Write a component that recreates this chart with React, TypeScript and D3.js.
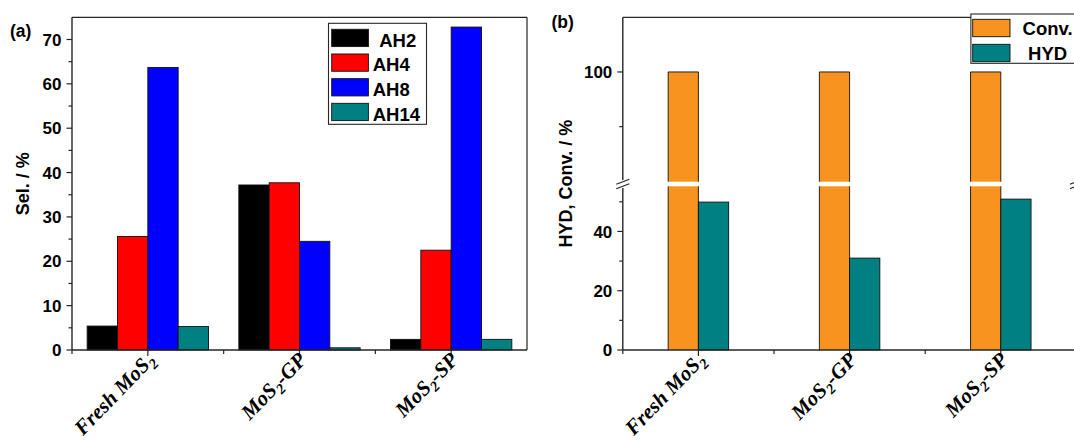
import React from "react";
import * as d3 from "d3";

// ---------- data ----------
const categories = ["Fresh MoS2", "MoS2-GP", "MoS2-SP"];
const seriesA = ["AH2", "AH4", "AH8", "AH14"];
const AH2 = [5.4, 37.2, 2.4];
const AH4 = [25.6, 37.7, 22.5];
const AH8 = [63.7, 24.5, 72.8];
const AH14 = [5.3, 0.5, 2.4];
const colorsA = ["#000000", "#FF0000", "#0000FF", "#008080"];

const seriesB = ["Conv.", "HYD"];
const conv = [100, 100, 100];
const hyd = [49.9, 31.0, 50.9];
const colorsB = ["#F7931E", "#008080"];

const yTicksA = [0, 10, 20, 30, 40, 50, 60, 70];
const yMinorA = [5, 15, 25, 35, 45, 55, 65];
const yTicksBLow = [0, 20, 40];
const yMinorBLow = [10, 30, 50];
const yTicksBHigh = [100];
const yMinorBHigh = [90];

// ---------- layout ----------
const W = 1074, H = 442;
const SANS = "'Liberation Sans', Arial, Helvetica, sans-serif";
const SERIF = "'Liberation Serif', 'Times New Roman', serif";
const AX = "#262626";
const TOP = 17.3, BOT = 350;

const dataA = [AH2, AH4, AH8, AH14];
const dataB = [conv, hyd];

const xA = d3.scaleBand<string>().domain(categories).range([72, 527]);
const bwA = xA.bandwidth();
const xInA = d3.scaleBand<string>().domain(seriesA).range([0.1 * bwA, 0.9 * bwA]);
const yA = d3.scaleLinear().domain([0, 75]).range([BOT, TOP]);

const xB = d3.scaleBand<string>().domain(categories).range([622.8, 1076.4]);
const bwB = xB.bandwidth();
const xInB = d3.scaleBand<string>().domain(seriesB).range([0.3 * bwB, 0.7 * bwB]);
const BRK = 184;
const GAP = 2.3;
const yBLow = d3.scaleLinear().domain([0, 56]).range([BOT, BRK]);
const yBHigh = d3.scaleLinear().domain([79.5, 110]).range([BRK, TOP]);

function CatLabel({ x, label }: { x: number; label: string }) {
  const parts = label.split(/(2)/).filter((p) => p.length > 0);
  return (
    <text
      transform={`translate(${x + 8},${BOT + 11}) rotate(-46)`}
      textAnchor="end"
      fontFamily={SERIF}
      fontWeight="bold"
      fontStyle="italic"
      fontSize={21}
      fill="#000"
    >
      {parts.map((p, i) =>
        p === "2" ? (
          <tspan key={i} dy={5} fontSize={14.5}>2</tspan>
        ) : (
          <tspan key={i} dy={i > 0 && parts[i - 1] === "2" ? -5 : 0}>{p}</tspan>
        )
      )}
    </text>
  );
}

function YTicks({ x, ticks, minor, scale }: { x: number; ticks: number[]; minor: number[]; scale: (v: number) => number }) {
  return (
    <g>
      {ticks.map((t) => (
        <g key={"M" + t}>
          <line x1={x - 5.5} x2={x} y1={scale(t)} y2={scale(t)} stroke={AX} strokeWidth={1.2} />
          <text x={x - 10.5} y={scale(t)} dy="0.36em" textAnchor="end" fontFamily={SANS} fontWeight="bold" fontSize={17}>
            {t}
          </text>
        </g>
      ))}
      {minor.map((t) => (
        <line key={"m" + t} x1={x - 3.5} x2={x} y1={scale(t)} y2={scale(t)} stroke={AX} strokeWidth={1.2} />
      ))}
    </g>
  );
}

function BreakMark({ x }: { x: number }) {
  return (
    <g>
      <rect x={x - 2} y={BRK - 4} width={4} height={8} fill="#fff" />
      <line x1={x - 6.5} y1={BRK + 0.3} x2={x + 6.5} y2={BRK - 4.7} stroke={AX} strokeWidth={1.2} />
      <line x1={x - 6.5} y1={BRK + 4.7} x2={x + 6.5} y2={BRK - 0.3} stroke={AX} strokeWidth={1.2} />
    </g>
  );
}

export default function App() {
  const leftA = 72, rightA = 527;
  const leftB = 622.8, rightB = 1076.4;

  return (
    <svg
      width={W}
      height={H}
      viewBox={`0 0 ${W} ${H}`}
      style={{ position: "absolute", left: 0, top: 0, display: "block", background: "#fff" }}
    >
      <rect width={W} height={H} fill="#fff" />

      {/* ---------------- Panel (a) ---------------- */}
      <g>
        {categories.map((c, ci) =>
          seriesA.map((s, si) => {
            const v = dataA[si][ci];
            const x = (xA(c) as number) + (xInA(s) as number);
            return (
              <rect
                key={c + s}
                x={x}
                y={yA(v)}
                width={xInA.bandwidth()}
                height={BOT - yA(v)}
                fill={colorsA[si]}
                stroke="#111"
                strokeWidth={0.9}
              />
            );
          })
        )}
        {/* frame */}
        <line x1={leftA} x2={rightA} y1={TOP} y2={TOP} stroke={AX} strokeWidth={1.2} />
        <line x1={rightA} x2={rightA} y1={TOP} y2={BOT} stroke={AX} strokeWidth={1.2} />
        <line x1={leftA} x2={leftA} y1={TOP} y2={BOT} stroke={AX} strokeWidth={1.4} />
        <line x1={leftA} x2={rightA} y1={BOT} y2={BOT} stroke={AX} strokeWidth={1.4} />
        <YTicks x={leftA} ticks={yTicksA} minor={yMinorA} scale={yA} />
        {categories.map((c) => {
          const cx = (xA(c) as number) + bwA / 2;
          return <line key={"xt" + c} x1={cx} x2={cx} y1={BOT} y2={BOT + 6} stroke={AX} strokeWidth={1.2} />;
        })}
        {categories.map((c) => {
          const bx = xA(c) as number;
          return <line key={"xm" + c} x1={bx} x2={bx} y1={BOT} y2={BOT + 4} stroke={AX} strokeWidth={1.2} />;
        })}
        {categories.map((c) => (
          <CatLabel key={"la" + c} x={(xA(c) as number) + bwA / 2} label={c} />
        ))}
        <text
          transform={`translate(29,${(TOP + BOT) / 2}) rotate(-90)`}
          textAnchor="middle"
          fontFamily={SANS}
          fontWeight="bold"
          fontSize={18}
        >
          Sel. / %
        </text>
        <text x={10} y={37} fontFamily={SANS} fontWeight="bold" fontSize={17.5}>(a)</text>

        {/* legend a */}
        <rect x={328.5} y={23.3} width={98} height={101} fill="#fff" stroke={AX} strokeWidth={1.1} />
        {seriesA.map((s, i) => (
          <g key={"lg" + s}>
            <rect x={331.7} y={29.3 + i * 24.67} width={36.7} height={17.3} fill={colorsA[i]} stroke="#111" strokeWidth={0.9} />
            <text x={372.7 + (i === 0 ? 6.5 : 0)} y={46.5 + i * 24.67} fontFamily={SANS} fontWeight="bold" fontSize={18.5}>
              {s}
            </text>
          </g>
        ))}
      </g>

      {/* ---------------- Panel (b) ---------------- */}
      <g>
        {categories.map((c, ci) =>
          seriesB.map((s, si) => {
            const v = dataB[si][ci];
            const x = (xB(c) as number) + (xInB(s) as number);
            const w = xInB.bandwidth();
            const lowMax = yBLow.domain()[1];
            const lowTop = v > lowMax ? BRK + GAP : yBLow(v);
            const hasHigh = v > yBHigh.domain()[0];
            const highTop = hasHigh ? yBHigh(v) : 0;
            return (
              <g key={c + s}>
                <rect x={x} y={lowTop} width={w} height={BOT - lowTop} fill={colorsB[si]} />
                {v > lowMax ? (
                  <path
                    d={`M${x},${lowTop}V${BOT}M${x + w},${lowTop}V${BOT}`}
                    stroke="#111"
                    strokeWidth={0.9}
                    fill="none"
                  />
                ) : (
                  <rect x={x} y={lowTop} width={w} height={BOT - lowTop} fill="none" stroke="#111" strokeWidth={0.9} />
                )}
                {hasHigh && (
                  <g>
                    <rect x={x} y={highTop} width={w} height={BRK - GAP - highTop} fill={colorsB[si]} />
                    <path
                      d={`M${x},${BRK - GAP}V${highTop}H${x + w}V${BRK - GAP}`}
                      stroke="#111"
                      strokeWidth={0.9}
                      fill="none"
                    />
                  </g>
                )}
              </g>
            );
          })
        )}
        {/* frame */}
        <line x1={leftB} x2={rightB} y1={TOP} y2={TOP} stroke={AX} strokeWidth={1.2} />
        <line x1={rightB} x2={rightB} y1={TOP} y2={BOT} stroke={AX} strokeWidth={1.2} />
        <line x1={leftB} x2={leftB} y1={TOP} y2={BOT} stroke={AX} strokeWidth={1.4} />
        <line x1={leftB} x2={rightB} y1={BOT} y2={BOT} stroke={AX} strokeWidth={1.4} />
        <YTicks x={leftB} ticks={yTicksBLow} minor={yMinorBLow} scale={yBLow} />
        <YTicks x={leftB} ticks={yTicksBHigh} minor={yMinorBHigh} scale={yBHigh} />
        <BreakMark x={leftB} />
        <BreakMark x={rightB} />
        {categories.map((c) => {
          const cx = (xB(c) as number) + bwB / 2;
          return <line key={"xtb" + c} x1={cx} x2={cx} y1={BOT} y2={BOT + 6} stroke={AX} strokeWidth={1.2} />;
        })}
        {categories.map((c) => {
          const bx = xB(c) as number;
          return <line key={"xmb" + c} x1={bx} x2={bx} y1={BOT} y2={BOT + 4} stroke={AX} strokeWidth={1.2} />;
        })}
        {categories.map((c) => (
          <CatLabel key={"lb" + c} x={(xB(c) as number) + bwB / 2} label={c} />
        ))}
        <text
          transform={`translate(572,${(TOP + BOT) / 2}) rotate(-90)`}
          textAnchor="middle"
          fontFamily={SANS}
          fontWeight="bold"
          fontSize={18}
        >
          HYD, Conv. / %
        </text>
        <text x={551.5} y={27.5} fontFamily={SANS} fontWeight="bold" fontSize={17.5}>(b)</text>

        {/* legend b */}
        <rect x={970.9} y={14} width={120} height={49.3} fill="#fff" stroke={AX} strokeWidth={1.1} />
        {seriesB.map((s, i) => (
          <g key={"lgb" + s}>
            <rect x={972.7} y={19.3 + i * 25} width={37.3} height={17.4} fill={colorsB[i]} stroke="#111" strokeWidth={0.9} />
            <text x={1047.6} y={35 + i * 25} textAnchor="middle" fontFamily={SANS} fontWeight="bold" fontSize={18.5}>
              {s}
            </text>
          </g>
        ))}
      </g>
    </svg>
  );
}
